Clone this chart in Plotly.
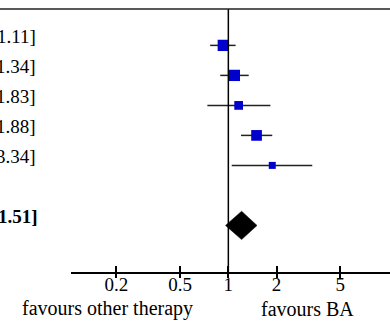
import numpy as np
import plotly.graph_objects as go

# studies (rows from top), odds ratios with 95% CI
est = [0.93, 1.09, 1.16, 1.50, 1.88]
lo = [0.77, 0.89, 0.74, 1.20, 1.05]
hi = [1.11, 1.34, 1.83, 1.88, 3.34]
weights = [25.8, 25.8, 15.4, 23.1, 9.9]  # % weight -> square area
rows = [1, 2, 3, 4, 5]

# pooled estimate
pool_est, pool_lo, pool_hi = 1.21, 0.96, 1.51
pool_row = 7

tick_vals = [0.2, 0.5, 1, 2, 5]
tick_text = ["0.2", "0.5", "1", "2", "5"]

FONT = "Liberation Serif"
FS = 19
BLUE = "#0000cc"

fig = go.Figure()

# CI lines
for r, l, h in zip(rows, lo, hi):
    fig.add_trace(go.Scatter(x=[l, h], y=[r, r], mode="lines",
                             line=dict(color="#222222", width=1.5),
                             hoverinfo="skip", showlegend=False))

# squares
sizes = [2.225 * np.sqrt(w) for w in weights]
fig.add_trace(go.Scatter(x=est, y=rows, mode="markers",
                         marker=dict(symbol="square", size=sizes, color=BLUE,
                                     opacity=1, line=dict(width=0)),
                         showlegend=False))

# diamond
dh = 0.473
fig.add_trace(go.Scatter(x=[pool_lo, pool_est, pool_hi, pool_est, pool_lo],
                         y=[pool_row, pool_row - dh, pool_row, pool_row + dh, pool_row],
                         mode="lines", fill="toself", fillcolor="black",
                         line=dict(color="black", width=0.5), showlegend=False))

# vertical line of no effect
fig.add_shape(type="line", x0=1, x1=1, xref="x", y0=0, y1=1, yref="paper",
              line=dict(color="black", width=1.5))
# top rule
fig.add_shape(type="line", x0=-0.3, x1=1.1, xref="paper", y0=1, y1=1, yref="paper",
              line=dict(color="#222222", width=1.5))

# left text column (mostly cut off at the page edge)
labels = [f"{e:.2f} [{l:.2f}, {h:.2f}]" for e, l, h in zip(est, lo, hi)]
for r, t in zip(rows, labels):
    fig.add_annotation(x=-0.105, xref="paper", y=r, yref="y", text=t,
                       xanchor="right", showarrow=False, yshift=9,
                       font=dict(family=FONT, size=FS, color="black"))
fig.add_annotation(x=-0.096, xref="paper", y=pool_row, yref="y",
                   text=f"<b>{pool_est:.2f} [{pool_lo:.2f}, {pool_hi:.2f}]</b>",
                   xanchor="right", showarrow=False, yshift=9,
                   font=dict(family=FONT, size=FS, color="black"))

# bottom captions
fig.add_annotation(x=0.113, xref="paper", y=-0.14, yref="paper", text="favours other therapy",
                   showarrow=False, xanchor="center", yanchor="middle",
                   font=dict(family=FONT, size=20, color="black"))
fig.add_annotation(x=0.74, xref="paper", y=-0.14, yref="paper", text="favours BA",
                   showarrow=False, xanchor="center", yanchor="middle",
                   font=dict(family=FONT, size=20, color="black"))

xr = [-0.982, 1.009]
fig.update_layout(
    width=390, height=323,
    margin=dict(l=71, r=0, t=9, b=51),
    plot_bgcolor="white", paper_bgcolor="white",
    font=dict(family=FONT, size=FS, color="black"),
    xaxis=dict(type="log", range=xr, tickvals=tick_vals, ticktext=tick_text,
               ticks="outside", ticklen=4, tickwidth=1.5, tickcolor="black",
               ticklabelstandoff=-10,
               showline=True, linecolor="black", linewidth=1.5,
               showgrid=False, zeroline=False, automargin=False),
    xaxis2=dict(type="log", range=xr, tickvals=tick_vals, overlaying="x",
                anchor="y", side="bottom", ticks="inside", ticklen=6,
                tickwidth=1.5, tickcolor="black", showticklabels=False,
                showgrid=False, zeroline=False, showline=False),
    yaxis=dict(range=[8.553, -0.213], visible=False, showgrid=False, zeroline=False),
)
fig.add_trace(go.Scatter(x=[1], y=[None], xaxis="x2", showlegend=False, hoverinfo="skip"))

fig.write_html("out.html", config={"displayModeBar": False},
               post_script="document.body.style.margin='0';")
